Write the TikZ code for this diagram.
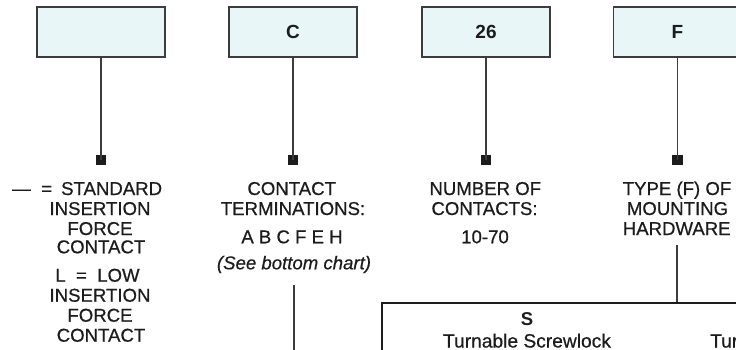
\documentclass[tikz,border=0pt]{standalone}
\usepackage{fontspec}
\setmainfont{Liberation Sans}
\newfontfamily\scanfont{Liberation Sans}[FakeBold=0.6]
\definecolor{ink}{RGB}{28,28,28}
\definecolor{edge}{RGB}{60,60,60}
\definecolor{boxfill}{RGB}{232,246,248}
\begin{document}
\begin{tikzpicture}[x=1pt,y=-1pt,
  ln/.style={font=\scanfont\fontsize{18.6}{19.7}\selectfont, text=ink, inner sep=0pt, anchor=base},
  hbox/.style={draw=edge, line width=1.7pt, fill=boxfill, minimum width=128pt, minimum height=50pt, inner sep=0pt, font=\fontsize{19}{19}\selectfont\bfseries, text=ink},
  sq/.style={fill=ink, minimum size=10.5pt, inner sep=0pt},
  conn/.style={draw=edge, line width=1.7pt},
  chartbox/.style={draw=ink, line width=2.3pt, minimum width=380pt, minimum height=70pt, inner sep=0pt, anchor=north west}]
\useasboundingbox (0,0) rectangle (736,350);
% top boxes
\node[hbox] (b1) at (101,31.7) {};
\node[hbox] (b2) at (293,31.7) {C};
\node[hbox] (b3) at (486,31.7) {26};
\node[hbox] (b4) at (677.5,31.7) {F};
% squares
\node[sq] (s1) at (101,160) {};
\node[sq] (s2) at (293,160) {};
\node[sq] (s3) at (486,160) {};
\node[sq] (s4) at (677.5,160) {};
\draw[conn] (b1.south) -- (s1.center);
\draw[conn] (b2.south) -- (s2.center);
\draw[conn] (b3.south) -- (s3.center);
\draw[conn] (b4.south) -- (s4.center);
% column 1
\node[ln, anchor=base west] (a1) at (12,195) {—\hspace{10.5pt}=\hspace{9pt}STANDARD};
\node[ln] (a2) at (100,215) {INSERTION};
\node[ln] (a3) at (100,235) {FORCE};
\node[ln] (a4) at (101,253.3) {CONTACT};
\node[ln] (a5) at (97.5,281.7) {L\ \ =\ \ LOW};
\node[ln] (a6) at (100,301.7) {INSERTION};
\node[ln] (a7) at (100,321.7) {FORCE};
\node[ln] (a8) at (101,341.7) {CONTACT};
% column 2
\node[ln] (m1) at (291.7,195) {CONTACT};
\node[ln] (m2) at (293,215) {TERMINATIONS:};
\node[ln] (m3) at (292,243.3) {A B C F E H};
\node[ln] (m4) at (294,269.3) {\itshape (See bottom chart)};
% column 3
\node[ln] (n1) at (485.3,195) {NUMBER OF};
\node[ln] (n2) at (484.5,215) {CONTACTS:};
\node[ln] (n3) at (485,243.3) {10-70};
% column 4
\node[ln] (h1) at (677,195) {TYPE (F) OF};
\node[ln] (h2) at (677.5,215) {MOUNTING};
\node[ln] (h3) at (676.7,235) {HARDWARE};
% bottom chart
\node[chartbox] (chart) at (381,302) {};
\coordinate (c2a) at (294,285);
\coordinate (c2b) at (294,352);
\coordinate (c4a) at (677.3,245);
\draw[conn] (c2a) -- (c2b);
\draw[conn] (c4a) -- (c4a |- chart.north);
\node[ln, font=\fontsize{18.5}{18.5}\selectfont\bfseries] (sS) at (527,325) {S};
\node[ln, font=\scanfont\fontsize{19.2}{19.2}\selectfont] (sT) at (527,347.5) {Turnable Screwlock};
\node[ln, font=\scanfont\fontsize{19.2}{19.2}\selectfont, anchor=base west] (sT2) at (710,347.5) {Tur};
\end{tikzpicture}
\end{document}
